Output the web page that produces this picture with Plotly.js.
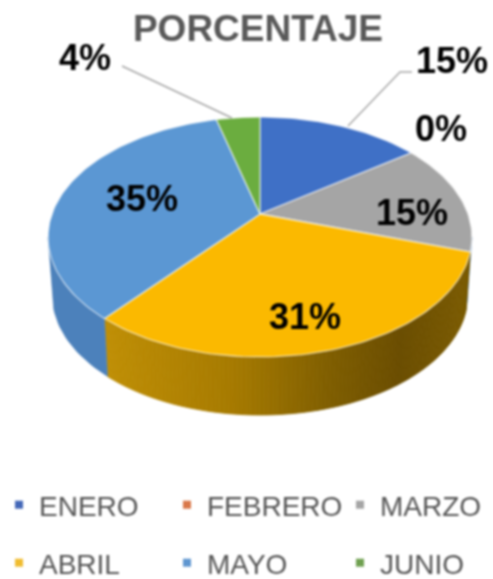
<!DOCTYPE html>
<html><head><meta charset="utf-8">
<script src="https://cdn.plot.ly/plotly-3.0.1.min.js"></script>
<style>html,body{margin:0;padding:0;background:#fff}#chart{width:493px;height:579px;filter:blur(0.8px)}</style>
</head><body><div id="chart"></div>
<script>
const months = ['ENERO','FEBRERO','MARZO','ABRIL','MAYO','JUNIO'];
const values = [15,0,15,31,35,4];
const colors = ['#3F70C6','#ED7D31','#A5A5A5','#FBB900','#5B97D3','#6BAD3F'];
const legendMarkerColors = ['#4468B8','#D9784A','#A5A5A5','#F0BC30','#5F96D0','#6FA050'];
const legendPos = [[-1,505],[167,505],[340,505],[-1,563],[167,563],[340,563]];
const labelPos = [[452,60],null,[412,212],[305,316],[142,198],[85,57]];
const zeroLabelPos = [441,128];
const wallStops = [[100,[192,143,5]],[233,[166,122,0]],[333,[126,93,0]],[400,[106,77,0]],[470,[122,90,0]]];

// projection of the tilted disc
const W=493,H=579,cx=260,cy=214,a=208,b=115.6,p=0.1917,depth=58;
function proj(t,low){
  const u=Math.sin(t),v=Math.cos(t),w=1+p*v;
  const k=low?0.98:1;
  return [cx+k*a*u/w, cy-b*v/w+(low?depth:0)];
}
const traces=[];
const total=values.reduce((s,x)=>s+x,0);
let acc=0;
const arcs=values.map(val=>{const s=acc/total*2*Math.PI;acc+=val;return [s,acc/total*2*Math.PI];});
function shade(x){
  for(let i=0;i<wallStops.length-1;i++){
    const [x0,c0]=wallStops[i],[x1,c1]=wallStops[i+1];
    if(x<=x1){const f=Math.max(0,(x-x0)/(x1-x0));
      return 'rgb('+c0.map((c,j)=>Math.round(c+(c1[j]-c)*f)).join(',')+')';}
  }
  return 'rgb('+wallStops[wallStops.length-1][1].join(',')+')';
}
// visible front wall runs between the two rim tangents
const tanR=Math.PI-Math.acos(p), tanL=Math.PI+Math.acos(p);
arcs.forEach(([s,e],i)=>{
  const from=Math.max(s,tanR),to=Math.min(e,tanL);
  if(to<=from) return;
  if(i===3){
    const n=110;
    for(let k=0;k<n;k++){
      const t0=from+(to-from)*k/n,t1=from+(to-from)*(k+1)/n;
      const A=proj(t0),B=proj(t1),C=proj(t1,true),D=proj(t0,true);
      const col=shade((A[0]+B[0])/2);
      traces.push({type:'scatter',mode:'lines',x:[A[0],B[0],C[0],D[0],A[0]],y:[A[1],B[1],C[1],D[1],A[1]],
        fill:'toself',fillcolor:col,line:{color:col,width:0.8},hoverinfo:'skip',showlegend:false});
    }
  } else {
    const n=24,xs=[],ys=[];
    for(let k=0;k<=n;k++){const P=proj(from+(to-from)*k/n);xs.push(P[0]);ys.push(P[1]);}
    for(let k=n;k>=0;k--){const P=proj(from+(to-from)*k/n,true);xs.push(P[0]);ys.push(P[1]);}
    xs.push(xs[0]);ys.push(ys[0]);
    traces.push({type:'scatter',mode:'lines',x:xs,y:ys,fill:'toself',fillcolor:'#4C81BB',line:{color:'#4C81BB',width:0.5},hoverinfo:'skip',showlegend:false});
  }
});
// top faces
arcs.forEach(([s,e],i)=>{
  if(e<=s) return;
  const xs=[cx],ys=[cy],n=Math.max(6,Math.round((e-s)*40));
  for(let k=0;k<=n;k++){const P=proj(s+(e-s)*k/n);xs.push(P[0]);ys.push(P[1]);}
  xs.push(cx);ys.push(cy);
  traces.push({type:'scatter',mode:'lines',name:months[i],x:xs,y:ys,fill:'toself',fillcolor:colors[i],
    line:{color:'rgba(255,255,255,0.6)',width:1.3},hoverinfo:'skip',showlegend:false});
});
// leader lines
traces.push({type:'scatter',mode:'lines',x:[122,232],y:[66,118],line:{color:'#A6A6A6',width:1.4},hoverinfo:'skip',showlegend:false});
traces.push({type:'scatter',mode:'lines',x:[412,400,348],y:[72,72,126],line:{color:'#A6A6A6',width:1.4},hoverinfo:'skip',showlegend:false});

// one native legend entry per month
const layoutLegends={};
months.forEach((m,i)=>{
  const key=i===0?'legend':'legend'+(i+1);
  traces.push({type:'scatter',mode:'markers',name:m,x:[null],y:[null],legend:key,
    marker:{symbol:'square',size:8,color:legendMarkerColors[i]},hoverinfo:'skip',showlegend:true});
  layoutLegends[key]={x:legendPos[i][0]/W,y:1-legendPos[i][1]/H,xanchor:'left',yanchor:'middle',
    bgcolor:'rgba(0,0,0,0)',borderwidth:0,font:{family:'Liberation Sans, Arial, sans-serif',size:28,color:'#555555'}};
});

const labelFont={family:'Liberation Sans, Arial, sans-serif',size:36,color:'#000000'};
const annotations=[];
values.forEach((val,i)=>{
  const pos=labelPos[i]||zeroLabelPos;
  annotations.push({x:pos[0],y:pos[1],xref:'x',yref:'y',text:'<b>'+val+'%</b>',showarrow:false,font:labelFont,xanchor:'center',yanchor:'middle'});
});

const layout=Object.assign({
  width:W,height:H,margin:{l:0,r:0,t:0,b:0,autoexpand:false},paper_bgcolor:'#fff',plot_bgcolor:'#fff',
  title:{text:'<b>PORCENTAJE</b>',x:258/W,xanchor:'center',y:1-28/H,yanchor:'middle',
    font:{family:'Liberation Sans, Arial, sans-serif',size:37,color:'#595959'}},
  xaxis:{range:[0,W],visible:false,fixedrange:true},
  yaxis:{range:[H,0],visible:false,fixedrange:true},
  annotations:annotations,showlegend:true
},layoutLegends);
Plotly.newPlot('chart',traces,layout,{displayModeBar:false,staticPlot:true});
</script></body></html>
